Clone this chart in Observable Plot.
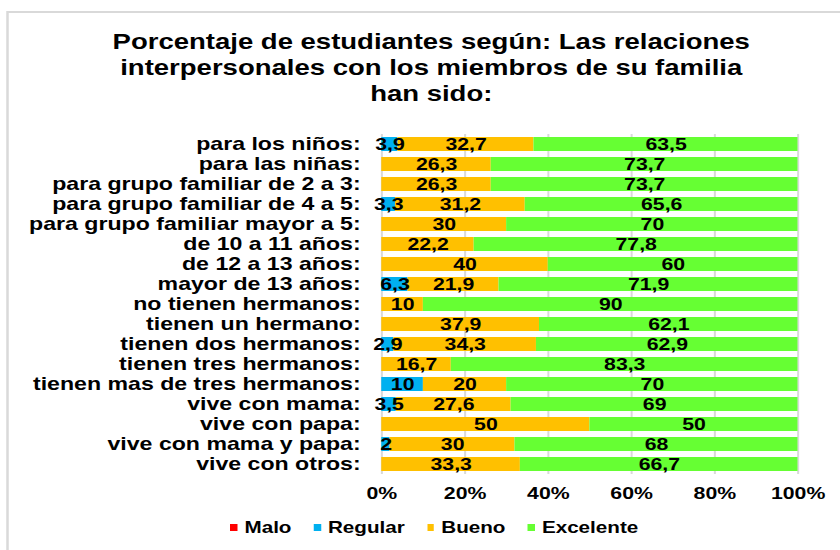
<!DOCTYPE html>
<html><head><meta charset="utf-8">
<script src="https://cdn.jsdelivr.net/npm/d3@7"></script>
<script src="https://cdn.jsdelivr.net/npm/@observablehq/plot@0.6"></script>
<style>
html,body{margin:0;padding:0;width:840px;height:550px;overflow:hidden;background:#fff;}
#wrap{position:absolute;left:0;top:0;width:672px;height:550px;transform:scaleX(1.25);transform-origin:0 0;font-family:"Liberation Sans",Arial,sans-serif;font-weight:bold;color:#000;}
#frame{position:absolute;left:4.8px;top:11px;width:720px;height:620px;border:2px solid #d9d9d9;box-sizing:border-box;}
#title{position:absolute;left:0;width:690px;top:29px;text-align:center;font-size:22px;line-height:26px;}
#chart{position:absolute;left:0;top:110px;}
#legend{position:absolute;left:0;width:695px;top:517px;display:flex;justify-content:center;align-items:center;font-size:16.5px;line-height:20px;}
#legend .item{display:flex;align-items:center;margin:0 9px;}
#legend .sw{display:inline-block;width:5.6px;height:7px;margin-right:5.6px;}
</style>
</head><body>
<div id="wrap">
  <div id="frame"></div>
  <div id="title">Porcentaje de estudiantes según: Las relaciones<br>interpersonales con los miembros de su familia<br>han sido:</div>
  <div id="chart"></div>
  <div id="legend"></div>
</div>
<script>
const categories = [
  "para los niños:", "para las niñas:", "para grupo familiar de 2 a 3:",
  "para grupo familiar de 4 a 5:", "para grupo familiar mayor a 5:",
  "de 10 a 11 años:", "de 12 a 13 años:", "mayor de 13 años:",
  "no tienen hermanos:", "tienen un hermano:", "tienen dos hermanos:",
  "tienen tres hermanos:", "tienen mas de tres hermanos:", "vive con mama:",
  "vive con papa:", "vive con mama y papa:", "vive con otros:"
];
const series = ["Malo", "Regular", "Bueno", "Excelente"];
const colors = ["#ff0000", "#00b0f0", "#ffc000", "#66ff33"];
const malo      = [0,0,0,0,0,0,0,0,0,0,0,0,0,0,0,0,0];
const regular   = [3.9,0,0,3.3,0,0,0,6.3,0,0,2.9,0,10,3.5,0,2,0];
const bueno     = [32.7,26.3,26.3,31.2,30,22.2,40,21.9,10,37.9,34.3,16.7,20,27.6,50,30,33.3];
const excelente = [63.5,73.7,73.7,65.6,70,77.8,60,71.9,90,62.1,62.9,83.3,70,69,50,68,66.7];
const xTicks = [0, 0.2, 0.4, 0.6, 0.8, 1];

const valuesBySerie = [malo, regular, bueno, excelente];
const table = [];
categories.forEach((c, i) => {
  series.forEach((s, j) => {
    const v = valuesBySerie[j][i];
    if (v > 0) table.push({cat: c, serie: s, value: v});
  });
});
const fmt = v => String(v).replace(".", ",");
const font = '"Liberation Sans", Arial, sans-serif';

const chart = Plot.plot({
  width: 672, height: 400,
  marginLeft: 305, marginRight: 34, marginTop: 24, marginBottom: 36,
  x: {domain: [0, 1], label: null},
  y: {domain: categories, paddingInner: 0.3, paddingOuter: 0.15, label: null},
  color: {domain: series, range: colors},
  style: {fontFamily: font, fontWeight: "bold", background: "transparent", overflow: "visible", color: "#000"},
  marks: [
    Plot.ruleX(xTicks, {stroke: "#d9d9d9", strokeWidth: 1.6}),
    Plot.barX(table, Plot.stackX({x: "value", y: "cat", z: "serie", fill: "serie", order: series, offset: "normalize"})),
    Plot.text(table, Plot.stackX({x: "value", y: "cat", z: "serie", order: series, offset: "normalize",
      text: d => fmt(d.value), fontSize: 17, fontWeight: "bold", fill: "#000"})),
    Plot.axisY({tickSize: 0, tickPadding: 17, fontSize: 18.5, fontWeight: "bold", label: null}),
    Plot.axisX({ticks: xTicks, tickFormat: d3.format(".0%"), tickSize: 0, tickPadding: 12, fontSize: 17, fontWeight: "bold", label: null})
  ]
});
document.getElementById("chart").appendChild(chart);

const legend = document.getElementById("legend");
series.forEach((s, j) => {
  const it = document.createElement("span");
  it.className = "item";
  const sw = document.createElement("span");
  sw.className = "sw";
  sw.style.background = colors[j];
  it.appendChild(sw);
  it.appendChild(document.createTextNode(s));
  legend.appendChild(it);
});
</script>
</body></html>
